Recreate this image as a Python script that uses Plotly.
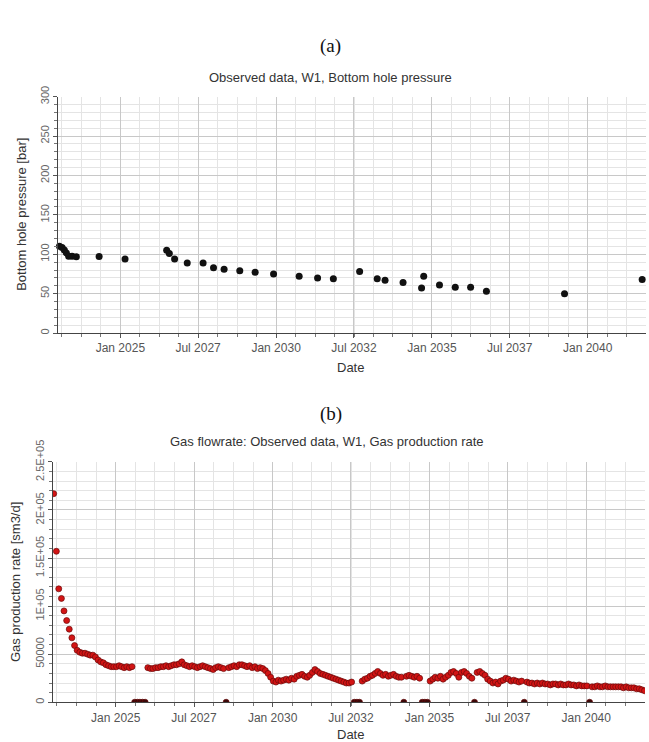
import plotly.graph_objects as go
import pandas as pd

# ---------------- Panel (a): bottom hole pressure ----------------
pa_dates = ["2023-01-18", "2023-02-18", "2023-03-16", "2023-04-09", "2023-05-06",
            "2023-06-15", "2023-08-04", "2024-04-27", "2025-02-25", "2026-06-28",
            "2026-07-29", "2026-09-29", "2027-02-24", "2027-08-29", "2027-12-29",
            "2028-05-01", "2028-11-01", "2029-04-30", "2029-12-02", "2030-09-28",
            "2031-05-02", "2031-11-03", "2032-09-06", "2033-03-31", "2033-07-01",
            "2034-01-28", "2034-09-02", "2034-09-27", "2035-03-31", "2035-10-02",
            "2036-03-30", "2036-10-01", "2039-04-05", "2041-10-01"]
pa_bhp = [110, 108.5, 105.5, 101.7, 97.5, 97.5, 96.7, 97, 94, 105,
          101, 94, 89, 89, 83, 81, 79, 77, 75, 72,
          70, 69, 78, 69, 67, 64, 57, 72, 61, 58,
          58, 53, 50, 68]

# ---------------- Panel (b): gas production rate (thousand sm3/d, monthly) ----------------
rate_2023 = [217, 157, 118, 108, 95, 85, 76, 67, 59, 54, 52, 51]
rate_2024 = [51, 50, 49, 49, 47, 44, 42, 41, 39, 38, 37, 37]
rate_2025 = [37, 38, 37, 36, 37, 36, 37, 0, 0, 0, 0, 0]
rate_2026 = [36, 35, 35, 36, 36, 37, 37, 38, 37, 38, 39, 39]
rate_2027 = [40, 42, 39, 38, 37, 38, 37, 36, 37, 38, 37, 36]
rate_2028 = [35, 34, 36, 37, 36, 35, 0, 36, 37, 38, 37, 39]
rate_2029 = [39, 38, 37, 38, 36, 37, 35, 36, 35, 33, 30, 26]
rate_2030 = [22, 21, 23, 22, 23, 24, 23, 25, 24, 27, 28, 29]
rate_2031 = [27, 26, 28, 31, 34, 32, 30, 29, 28, 27, 26, 25]
rate_2032 = [24, 23, 22, 21, 20, 20, 21, 0, 0, 0, 22, 24]
rate_2033 = [25, 27, 28, 30, 32, 30, 28, 29, 27, 28, 29, 27]
rate_2034 = [26, 26, 0, 27, 28, 27, 26, 27, 25, 0, 0, 0]
rate_2035 = [22, 24, 26, 25, 27, 24, 26, 28, 31, 32, 30, 26]
rate_2036 = [31, 32, 30, 27, 25, 0, 31, 32, 30, 28, 24, 22]
rate_2037 = [20, 21, 19, 22, 23, 25, 24, 22, 23, 22, 21, 22]
rate_2038 = [0, 21, 20, 20, 19, 20, 19, 20, 19, 19, 18, 19]
rate_2039 = [19, 18, 19, 18, 18, 19, 18, 18, 17, 18, 17, 17]
rate_2040 = [17, 0, 16, 16, 17, 16, 16, 17, 16, 16, 16, 16]
rate_2041 = [16, 16, 15, 16, 15, 15, 15, 14, 14, 13, 12]

rate_k = (rate_2023 + rate_2024 + rate_2025 + rate_2026 + rate_2027 + rate_2028 +
          rate_2029 + rate_2030 + rate_2031 + rate_2032 + rate_2033 + rate_2034 +
          rate_2035 + rate_2036 + rate_2037 + rate_2038 + rate_2039 + rate_2040 +
          rate_2041)
pb_rate = [v * 1000 for v in rate_k]
pb_dates = pd.date_range("2023-01-01", periods=len(pb_rate), freq="MS") + pd.Timedelta(days=8)

pb_tick_vals = [0, 50000, 100000, 150000, 200000, 250000]
pb_tick_text = ["0", "50000", "1E+05", "1.5E+05", "2E+05", "2.5E+05"]

x_range = ["2023-01-01", "2041-11-15"]

FONT = "Liberation Sans, Arial, sans-serif"
SERIF = "Liberation Serif, Times New Roman, serif"
W, H = 649, 742


def px_x(p):
    return p / W


def px_y(p):
    return 1 - p / H


pb_fill = ["#3a0808" if v == 0 else "#d21414" for v in pb_rate]

fig = go.Figure()
fig.add_trace(go.Scatter(
    x=pa_dates, y=pa_bhp, mode="markers",
    marker=dict(size=7, color="#111111"),
    xaxis="x", yaxis="y", cliponaxis=False, hoverinfo="x+y"))
fig.add_trace(go.Scatter(
    x=pb_dates, y=pb_rate, mode="markers",
    marker=dict(size=6, color=pb_fill, line=dict(color="#6a0a0a", width=0.7)),
    xaxis="x2", yaxis="y2", hoverinfo="x+y"))

common_x = dict(
    type="date", range=x_range, tick0="2025-01-01", dtick="M30", tickformat="%b %Y",
    ticks="outside", ticklen=4, tickcolor="#555", showline=True, linecolor="#444",
    linewidth=1, showgrid=True, gridcolor="#c8c8c8", gridwidth=1, zeroline=False,
    tickfont=dict(family=FONT, size=12, color="#555"),
    minor=dict(tick0="2025-01-01", dtick=19723500000, ticks="outside", ticklen=3,
               tickcolor="#777", showgrid=True, gridcolor="#e4e4e4", gridwidth=1),
)
common_y = dict(
    ticks="outside", ticklen=4, tickcolor="#555", showline=True, linecolor="#444",
    linewidth=1, showgrid=True, gridcolor="#c8c8c8", gridwidth=1, zeroline=False,
    tickangle=-90, tickfont=dict(family=FONT, size=11, color="#666"),
)

fig.update_layout(
    width=W, height=H, margin=dict(l=0, r=0, t=0, b=0),
    paper_bgcolor="white", plot_bgcolor="white", showlegend=False,
    xaxis=dict(common_x, domain=[px_x(58), px_x(646)], anchor="y"),
    yaxis=dict(common_y, domain=[px_y(321), px_y(77)], range=[0, 300], dtick=50,
               anchor="x",
               minor=dict(dtick=10, ticks="outside", ticklen=3, tickcolor="#777",
                          showgrid=True, gridcolor="#e4e4e4")),
    xaxis2=dict(common_x, domain=[px_x(53), px_x(645)], anchor="y2"),
    yaxis2=dict(common_y, domain=[px_y(702), px_y(454)], range=[0, 250000],
                tickmode="array", tickvals=pb_tick_vals, ticktext=pb_tick_text,
                anchor="x2",
                minor=dict(dtick=10000, tick0=0, ticks="outside", ticklen=3,
                           tickcolor="#777", showgrid=True, gridcolor="#e4e4e4")),
)

ann = [
    dict(text="(a)", x=px_x(330), y=px_y(25), font=dict(family=SERIF, size=19, color="#111")),
    dict(text="Observed data, W1, Bottom hole pressure", x=px_x(330), y=px_y(57),
         font=dict(family=FONT, size=13, color="#333")),
    dict(text="Date", x=px_x(350), y=px_y(357), font=dict(family=FONT, size=13, color="#333")),
    dict(text="Bottom hole pressure [bar]", x=px_x(22), y=px_y(199), textangle=-90,
         font=dict(family=FONT, size=13, color="#333")),
    dict(text="(b)", x=px_x(331), y=px_y(405), font=dict(family=SERIF, size=19, color="#111")),
    dict(text="Gas flowrate: Observed data, W1, Gas production rate", x=px_x(327), y=px_y(433),
         font=dict(family=FONT, size=13, color="#333")),
    dict(text="Date", x=px_x(350), y=px_y(735), font=dict(family=FONT, size=13, color="#333")),
    dict(text="Gas production rate [sm3/d]", x=px_x(15), y=px_y(578), textangle=-90,
         font=dict(family=FONT, size=13, color="#333")),
]
for a in ann:
    a.update(xref="paper", yref="paper", showarrow=False, xanchor="center", yanchor="middle")
fig.update_layout(annotations=ann)

fig.write_html("out.html")
